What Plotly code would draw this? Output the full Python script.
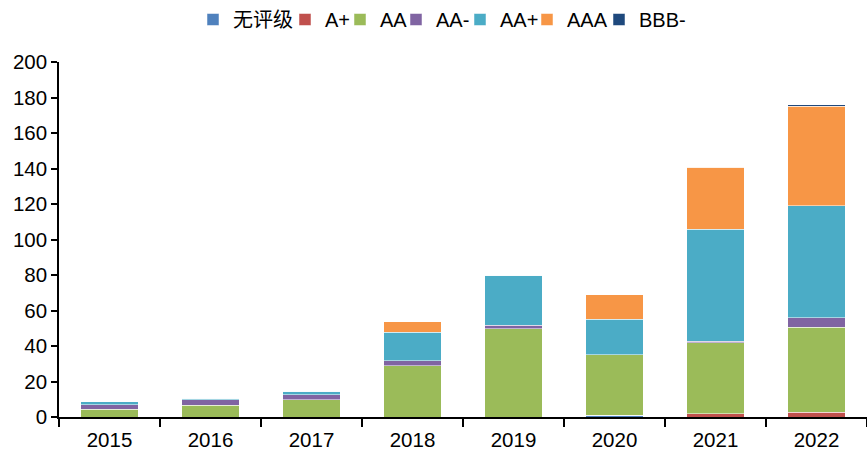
import plotly.graph_objects as go

years = ["2015", "2016", "2017", "2018", "2019", "2020", "2021", "2022"]
series_names = ["无评级", "A+", "AA", "AA-", "AA+", "AAA", "BBB-"]
unrated = [0, 0, 0, 0, 0, 1, 0, 0]
a_plus = [0, 0, 0, 0, 0, 0, 1.7, 2.6]
aa = [4.5, 6.6, 9.6, 29, 49.6, 34, 40, 48.1]
aa_minus = [2.3, 3.0, 3, 2.8, 2.2, 0, 1.1, 5.2]
aa_plus = [1.9, 1.1, 2, 16, 28.2, 20, 63, 63.1]
aaa = [0, 0, 0, 6, 0, 14, 35, 56.2]
bbb_minus = [0, 0, 0, 0, 0, 0, 0, 0.7]
colors = ["#4F81BD", "#C0504D", "#9BBB59", "#8064A2", "#4BACC6", "#F79646", "#1F497D"]

# horizontal pixel position of each legend entry's swatch (layout only)
legend_px = [209, 301, 356, 412, 476, 543, 615]
SW_OFF = 16
W, H = 867, 456

fig = go.Figure()
legend_layout = {}
for i, (name, vals, col) in enumerate(zip(series_names,
                                          [unrated, a_plus, aa, aa_minus, aa_plus, aaa, bbb_minus],
                                          colors)):
    lg = "legend" if i == 0 else f"legend{i+1}"
    fig.add_trace(go.Bar(x=years, y=vals, name=name, legend=lg,
                         marker=dict(color=col, line=dict(color="white", width=0.5))))
    legend_layout[lg] = dict(orientation="h", x=(legend_px[i] - SW_OFF) / W, xref="container",
                             xanchor="left", y=1.0, yref="container", yanchor="top",
                             font=dict(size=20), itemwidth=30, bgcolor="rgba(0,0,0,0)")

font_family = "Liberation Sans, Arial, Noto Sans CJK SC, sans-serif"
fig.update_layout(
    barmode="stack",
    bargap=0.427,
    width=W, height=H,
    margin=dict(l=59, r=0, t=62, b=39),
    plot_bgcolor="white", paper_bgcolor="white",
    font=dict(family=font_family, size=20, color="black"),
    showlegend=True,
    **legend_layout,
)
fig.update_xaxes(
    type="category", showline=True, linecolor="black", linewidth=1.5,
    ticks="outside", tickson="boundaries", ticklen=8, tickwidth=1.5, tickcolor="black",
    showgrid=False, tickfont=dict(size=20.5), ticklabelstandoff=4,
)
fig.update_yaxes(
    range=[0, 200], dtick=20, showline=True, linecolor="black", linewidth=1.5,
    ticks="outside", ticklen=6, tickwidth=1.5, tickcolor="black",
    showgrid=False, zeroline=False, tickfont=dict(size=20.5),
)
fig.write_html("out.html", config={"displayModeBar": False},
               post_script="document.body.style.margin='0';")
